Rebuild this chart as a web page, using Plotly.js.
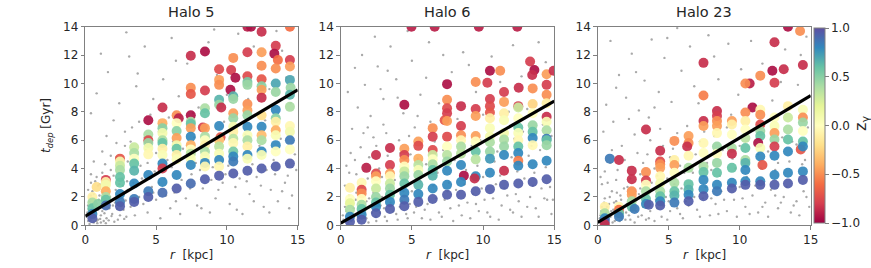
<!DOCTYPE html>
<html>
<head>
<meta charset="utf-8">
<script src="https://cdn.plot.ly/plotly-3.0.1.min.js"></script>
<style>html,body{margin:0;padding:0;background:#fff;}#chart{width:871px;height:268px;}</style>
</head>
<body>
<div id="chart"></div>
<script>
// ---------------- DATA ----------------
const haloTitles = ['Halo 5', 'Halo 6', 'Halo 23'];
const xTicks = [0, 5, 10, 15];
const yTicks = [0, 2, 4, 6, 8, 10, 12, 14];
const cbTicks = [-1, -0.5, 0, 0.5, 1];

// fitted lines: r endpoints and t_dep values
const fitR = [0, 15];
const h5_fit = [0.65, 9.55];
const h6_fit = [0.15, 8.75];
const h23_fit = [0.2, 9.15];

// gray background points [r, t_dep]
const h5_gray = [[0.2,0.3],[0.3,0.8],[0.4,0.5],[0.5,1.2],[0.6,0.2],[0.7,0.9],[0.8,1.5],[0.9,0.4],[1.0,2.1],[1.1,0.7],[1.2,1.0],[1.3,0.3],[0.3,1.7],[0.5,2.4],[0.7,3.1],[0.9,2.8],[1.5,0.5],[1.7,1.2],[1.9,0.8],[2.1,1.6],[2.3,0.4],[2.5,2.2],[2.7,1.1],[2.9,0.6],[0.4,3.6],[0.6,4.5],[1.2,5.2],[1.8,3.9],[2.2,4.8],[2.6,3.3],[3.0,2.5],[3.2,1.3],[3.5,0.7],[3.8,2.0],[4.1,1.5],[4.4,0.9],[4.7,2.7],[5.0,1.8],[5.3,0.5],[5.6,3.3],[6.0,1.2],[6.3,2.3],[6.7,0.8],[7.1,1.9],[7.5,3.6],[7.9,1.4],[8.3,2.6],[8.8,0.9],[9.2,1.9],[9.7,3.0],[10.2,1.5],[10.6,2.7],[11.1,0.8],[11.6,2.2],[12.1,3.4],[12.6,1.3],[13.1,2.5],[13.6,1.7],[14.1,3.0],[14.6,2.1],
[0.1,0.6],[0.2,1.4],[0.4,2.1],[0.6,1.0],[0.8,0.3],[1.0,1.3],[1.4,1.9],[1.6,2.6],[0.3,0.1],[0.5,0.7],[0.9,1.1],[1.1,0.2],
[1.5,6.3],[2.0,7.4],[2.8,5.6],[3.3,6.9],[3.9,4.2],[4.3,5.3],[4.9,3.8],[5.2,6.6],[5.8,4.6],[6.2,5.9],[6.8,3.2],[7.3,4.9],[7.7,6.2],[8.1,3.9],[8.6,5.3],[9.0,4.1],[9.5,5.8],[9.9,3.6],[10.4,4.9],[10.9,3.3],[11.3,6.4],[11.8,4.3],[12.3,5.6],[12.8,3.9],[13.3,4.6],[13.8,6.1],[14.3,3.5],[14.8,5.0],
[0.8,9.3],[1.6,10.8],[2.4,8.6],[3.1,11.9],[3.6,9.8],[4.2,12.6],[4.8,8.9],[5.5,10.3],[6.1,13.2],[6.6,9.1],[7.2,11.4],[8.0,8.3],[8.7,12.9],[9.3,10.6],[10.0,9.2],[10.8,13.5],[11.5,8.9],[12.2,11.1],[13.0,9.6],[13.9,12.3],[14.5,8.6],[0.4,7.9],[1.1,12.1],[2.9,13.6],[5.9,7.6],[7.6,7.9],[9.8,7.3],[12.7,7.4],[14.2,10.4],
[0.15,0.9],[0.25,1.1],[0.35,0.35],[0.45,0.95],[0.55,1.55],[0.65,0.55],[0.75,1.25],[0.85,0.15],[0.95,1.8],[1.05,0.45],[1.15,1.45],[1.25,2.3],[1.35,0.85],[1.45,0.15],[1.55,1.6],[1.65,0.35],[1.75,2.0],[1.85,0.65],[1.95,1.4],[2.05,0.25],[2.15,2.5],[2.25,1.15],[2.35,1.85],[2.45,0.7],[2.55,1.35],[2.65,2.8],[2.75,0.45],[2.85,1.75],[2.95,3.1],[0.2,2.5],[0.4,3.0],[0.6,2.2],[0.8,3.4],[1.0,2.9],[1.2,3.7],[1.4,4.3],[1.6,3.1],[1.8,4.9],[2.0,3.5],[2.2,5.8],[2.4,2.9],[2.6,4.2],[2.8,6.6],[3.0,4.5],[3.2,5.9],[3.4,3.0],[3.6,4.6],[3.8,7.3],[4.0,3.3],[4.2,6.2],[4.4,4.4],[4.6,7.8],[4.8,2.3],[5.0,5.1],[5.2,3.0],[5.4,7.2],[5.7,2.1],[6.1,4.1],[6.4,1.7],[6.9,5.4],[7.4,2.6],[7.8,4.4],[8.2,1.2],[8.9,3.2],[9.4,2.5],[10.1,4.2],[10.7,1.1],[11.4,3.1],[11.9,1.7],[12.4,2.8],[13.0,0.9],[13.4,3.6],[13.9,2.4],[14.4,1.2],[14.9,3.9],[3.7,10.7],[6.4,11.6],[9.1,13.8],[11.9,12.6],[13.5,13.7]];

const h6_gray = [[0.2,0.4],[0.4,1.0],[0.5,0.2],[0.7,1.6],[0.9,0.7],[1.1,2.3],[1.3,0.3],[1.6,1.1],[1.8,0.5],[2.0,1.9],[2.2,0.9],[2.5,0.3],[2.8,1.4],[3.1,0.6],[3.4,2.6],[3.7,1.0],[4.0,0.4],[4.3,1.7],[4.6,0.8],[5.0,2.4],[5.3,1.3],[5.7,0.5],[6.1,1.5],[6.5,2.8],[6.9,0.9],[7.3,1.8],[7.7,1.2],[8.1,2.5],[8.5,0.7],[8.9,1.6],[9.3,2.2],[9.7,1.0],[10.1,1.8],[10.5,0.6],[10.9,2.9],[11.3,1.4],[11.7,2.1],[12.1,0.9],[12.5,1.7],[12.9,3.3],[13.3,2.0],[13.7,1.2],[14.1,2.6],[14.5,1.8],[14.8,0.8],
[0.3,2.8],[0.6,3.7],[1.0,4.6],[1.4,5.5],[1.9,3.3],[2.3,6.2],[2.7,4.0],[3.0,7.1],[3.3,4.9],[3.8,3.2],[4.1,6.0],[4.5,3.6],[4.9,5.0],[5.2,6.9],[5.6,3.1],[6.0,4.3],[6.3,7.3],[6.8,3.7],[7.2,5.3],[7.6,3.0],[8.0,4.6],[8.4,6.8],[8.8,3.9],[9.2,5.6],[9.6,4.2],[10.0,3.4],[10.4,6.2],[10.8,4.5],[11.2,3.5],[11.6,5.9],[12.0,4.8],[12.4,3.8],[12.8,6.6],[13.2,4.9],[13.6,3.7],[14.0,5.3],[14.4,4.1],[14.8,6.3],
[0.8,6.8],[1.2,8.3],[1.7,9.9],[2.1,7.7],[2.6,11.2],[3.0,8.9],[3.5,12.6],[3.9,10.3],[4.4,7.9],[5.0,11.6],[5.6,9.2],[6.2,12.9],[6.9,8.6],[7.8,10.8],[8.6,12.2],[9.5,9.4],[10.6,11.9],[11.8,8.0],[12.7,10.5],[13.9,12.9],[14.6,8.9],[2.4,13.3],[4.7,13.7],[1.5,12.0],[8.2,7.5],[10.0,7.8],
[0.15,0.7],[0.3,1.3],[0.45,0.5],[0.6,2.1],[0.75,0.3],[0.9,1.2],[1.05,1.8],[1.2,0.6],[1.35,1.5],[1.5,2.6],[1.65,0.8],[1.8,1.7],[1.95,0.2],[2.1,1.3],[2.3,2.3],[2.45,0.6],[2.6,1.8],[2.75,0.9],[2.9,2.0],[3.05,1.2],[3.25,0.3],[3.5,1.6],[3.65,2.1],[3.9,0.8],[4.15,1.3],[4.4,2.4],[4.7,0.5],[4.85,1.5],[5.15,0.9],[5.5,2.0],[5.9,1.1],[6.3,0.4],[6.7,1.9],[7.1,0.6],[7.5,2.4],[7.9,0.3],[8.3,1.4],[8.7,2.9],[9.1,0.5],[9.5,1.5],[9.9,2.6],[10.3,0.9],[10.7,1.9],[11.1,0.4],[11.5,2.6],[11.9,1.1],[12.3,2.2],[12.7,0.6],[13.1,1.3],[13.5,2.8],[13.9,0.6],[14.3,1.9],[14.7,2.7],[14.9,1.8],
[0.4,4.2],[0.7,5.1],[1.1,3.6],[1.6,6.5],[2.0,4.8],[2.5,5.6],[2.9,3.4],[3.2,6.5],[3.6,4.0],[4.2,5.1],[4.8,6.3],[5.4,4.7],[6.6,5.9],[7.4,4.1],[8.6,5.0],[9.8,6.0],[11.0,5.2],[12.2,6.1],[13.4,5.6],[14.2,7.1],
[0.5,9.4],[1.0,11.1],[1.9,6.9],[2.8,9.6],[3.3,10.9],[4.0,9.0],[5.4,7.7],[6.0,10.4],[7.2,12.0],[9.0,11.3],[11.2,10.1],[12.1,12.7],[13.1,8.2],[14.4,11.5]];

const h23_gray = [[0.1,0.2],[0.2,0.7],[0.3,1.3],[0.4,0.4],[0.5,1.9],[0.6,0.9],[0.7,0.1],[0.8,1.5],[0.9,0.6],[1.0,2.4],[1.1,1.1],[1.2,0.3],[1.3,1.7],[1.4,0.8],[1.6,2.1],[1.7,0.5],[1.8,1.3],[2.0,0.9],[2.1,2.7],[2.3,0.4],[2.5,1.6],[2.7,1.0],[2.9,2.2],[3.1,0.7],[3.3,1.9],[3.6,0.5],[3.9,2.5],[4.2,1.2],[4.5,0.6],[4.8,2.0],[5.1,1.0],[5.4,2.9],[5.8,0.8],[6.2,1.7],[6.6,2.6],[7.0,1.1],[7.4,1.9],[7.9,0.7],[8.3,1.5],[8.7,2.4],[9.1,1.0],[9.6,1.8],[10.0,2.7],[10.4,1.3],[10.9,2.1],[11.3,0.9],[11.8,1.6],[12.2,2.5],[12.7,1.2],[13.1,2.0],[13.6,0.9],[14.0,1.7],[14.5,2.4],[14.9,1.3],
[0.3,2.9],[0.5,3.8],[0.9,4.4],[1.3,3.2],[1.7,5.6],[2.2,4.1],[2.6,6.4],[3.0,3.6],[3.5,5.0],[4.0,4.0],[4.4,6.8],[4.9,3.3],[5.3,5.4],[5.8,4.2],[6.3,7.0],[6.7,3.7],[7.2,5.9],[7.7,4.4],[8.2,6.3],[8.6,3.5],[9.1,6.9],[9.5,4.7],[10.0,5.6],[10.5,3.4],[11.0,6.7],[11.5,4.0],[12.0,5.2],[12.5,3.9],[13.0,6.2],[13.5,4.5],[14.0,5.7],[14.4,4.3],[14.8,6.9],
[0.6,8.5],[1.1,7.3],[1.5,10.6],[2.0,9.0],[2.4,12.1],[2.9,8.1],[3.3,10.2],[3.8,13.1],[4.3,9.4],[4.7,11.8],[5.2,8.7],[5.9,10.9],[6.5,12.6],[7.1,8.6],[7.8,13.4],[8.5,10.3],[9.2,12.8],[9.9,9.2],[10.8,13.0],[11.6,11.4],[12.3,8.8],[13.2,12.4],[14.1,9.9],[14.7,13.3],[0.9,13.0],[5.6,13.9],[3.6,7.6],[9.4,7.8],
[0.15,0.5],[0.25,1.0],[0.35,0.2],[0.45,1.6],[0.55,0.6],[0.65,1.3],[0.75,0.4],[0.85,2.0],[0.95,1.0],[1.05,0.2],[1.15,1.6],[1.25,0.7],[1.35,2.3],[1.45,1.2],[1.55,0.3],[1.65,1.8],[1.75,0.9],[1.85,2.6],[1.95,0.4],[2.05,1.5],[2.2,0.7],[2.35,2.0],[2.45,1.1],[2.6,0.2],[2.75,1.8],[2.85,0.6],[3.0,2.6],[3.2,1.3],[3.4,0.4],[3.5,2.2],[3.7,1.0],[3.8,3.0],[4.0,0.3],[4.1,1.8],[4.3,2.8],[4.6,1.4],[4.9,0.4],[5.0,1.7],[5.3,2.3],[5.6,1.2],[5.9,2.6],[6.0,0.5],[6.4,1.4],[6.8,2.0],[7.2,0.6],[7.6,2.7],[8.0,1.9],[8.5,0.8],[8.9,1.8],[9.3,2.9],[9.8,0.6],[10.2,1.9],[10.7,0.8],[11.1,2.8],[11.6,1.3],[12.0,0.6],[12.5,2.1],[12.9,1.6],[13.3,2.7],[13.8,1.4],[14.2,0.7],[14.7,2.0],
[0.2,3.4],[0.7,3.0],[1.0,5.3],[1.4,3.9],[1.9,4.6],[2.3,3.3],[2.8,5.1],[3.2,4.4],[3.7,6.0],[4.2,3.5],[4.6,5.6],[5.1,4.8],[5.6,6.5],[6.1,3.7],[6.9,5.0],[7.5,6.6],[8.0,3.9],[8.8,5.3],[9.7,4.0],[10.3,6.3],[11.3,5.0],[12.7,4.4],[13.7,5.9],[14.6,4.6],
[0.4,6.6],[1.3,9.7],[2.2,7.5],[2.7,10.8],[4.0,8.3],[4.9,13.2],[6.8,9.8],[8.2,11.9],[10.1,11.0],[11.1,8.5],[12.9,10.1],[14.3,12.0]];

// coloured binned points [r, t_dep, z_gamma]
const h5_pts = [
[0.5,2.0,-0.1],[0.5,1.6,0.4],[0.5,1.2,0.6],[0.5,0.8,0.8],[0.5,0.5,0.95],[0.8,2.7,-0.2],[0.9,1.5,0.5],
[1.45,3.2,-0.8],[1.45,3.05,-0.1],[1.45,2.85,0.1],[1.45,2.4,-0.4],[1.45,2.0,0.4],[1.45,1.8,0.6],[1.45,1.4,0.9],
[2.45,4.7,-0.7],[2.45,4.5,0.1],[2.45,4.2,0.3],[2.45,3.9,0.4],[2.45,3.4,0.6],[2.45,3.0,0.6],[2.45,2.2,0.8],[2.45,1.65,0.85],[2.45,1.35,0.95],
[3.45,5.5,0.3],[3.45,5.1,0.4],[3.45,4.7,0.0],[3.45,4.35,0.6],[3.45,3.85,0.65],[3.45,2.95,0.8],[3.45,1.85,0.85],[3.45,1.65,0.95],
[4.45,7.4,-0.95],[4.45,6.4,0.4],[4.45,6.0,-0.75],[4.45,5.8,0.45],[4.45,5.45,0.1],[4.45,5.0,-0.05],[4.45,3.55,0.8],[4.45,2.4,0.85],[4.45,2.0,0.95],
[5.45,8.3,-0.85],[5.45,7.2,-0.4],[5.45,6.85,0.5],[5.45,6.5,0.1],[5.45,6.0,0.4],[5.45,5.8,0.6],[5.45,5.4,-0.1],[5.45,4.95,0.05],[5.45,4.35,0.8],[5.45,4.0,-0.8],[5.45,3.05,0.8],[5.45,2.3,0.9],
[6.45,7.75,-0.5],[6.6,7.55,-0.9],[6.45,7.2,0.0],[6.45,6.65,0.5],[6.45,6.15,-0.45],[6.45,5.65,0.1],[6.45,5.4,0.6],[6.45,4.95,-0.1],[6.45,4.65,0.05],[6.45,3.55,0.8],[6.45,2.6,0.95],
[7.45,11.95,-0.85],[7.45,9.7,-0.5],[7.45,9.25,-0.7],[7.45,7.75,-0.95],[7.45,7.3,0.4],[7.45,7.15,0.6],[7.45,6.85,-0.45],[7.45,6.25,0.8],[7.45,5.65,-0.4],[7.45,5.35,0.0],[7.45,5.05,0.35],[7.45,4.7,0.05],[7.45,4.25,0.8],[7.45,2.95,0.9],
[8.45,12.25,-0.95],[8.45,9.5,-0.8],[8.45,8.25,0.4],[8.45,7.9,0.6],[8.3,6.9,-0.8],[8.45,6.85,-0.45],[8.45,6.25,0.4],[8.45,6.0,0.0],[8.45,5.65,-0.1],[8.45,5.2,0.4],[8.45,4.85,0.05],[8.45,4.4,0.8],[8.45,4.15,-0.05],[8.45,3.25,0.95],
[9.45,11.0,-0.75],[9.45,10.25,-0.45],[9.45,9.9,-0.5],[9.45,8.85,0.65],[9.45,8.5,0.45],[9.6,8.3,-0.85],[9.45,7.0,0.8],[9.55,6.2,-0.7],[9.45,6.0,-0.3],[9.45,5.55,0.35],[9.45,5.05,0.05],[9.45,4.6,0.8],[9.45,4.15,-0.05],[9.45,3.5,0.95],
[10.45,11.8,-0.5],[10.3,10.95,-0.8],[10.6,10.4,-0.95],[10.25,9.55,-0.95],[10.45,9.1,0.65],[10.45,8.9,0.45],[10.45,7.9,-0.45],[10.45,7.55,0.45],[10.45,6.95,0.1],[10.45,6.6,-0.1],[10.45,6.1,0.35],[10.45,5.8,-0.05],[10.45,5.2,0.55],[10.45,4.85,0.8],[10.45,4.5,0.85],[10.45,3.65,0.95],
[11.45,14.0,-0.9],[11.7,14.0,-0.95],[11.45,12.2,-0.8],[11.45,10.5,-0.75],[11.45,10.1,0.55],[11.45,9.9,0.45],[11.45,8.55,-0.5],[11.45,8.1,-0.45],[11.45,7.75,0.45],[11.45,6.95,0.8],[11.45,6.35,0.05],[11.45,6.0,0.4],[11.45,5.55,-0.1],[11.45,4.95,0.8],[11.45,4.7,0.05],[11.45,3.85,0.95],
[12.45,13.65,-0.85],[12.45,12.2,-0.45],[12.45,11.25,-0.5],[12.45,10.3,-0.7],[12.45,9.8,0.5],[12.45,9.55,-0.45],[12.45,9.0,-0.85],[12.45,7.75,-0.2],[12.45,6.95,0.8],[12.45,6.35,-0.35],[12.45,6.0,0.4],[12.45,5.2,0.8],[12.45,4.95,0.05],[12.45,4.0,0.95],
[13.45,12.65,-0.8],[13.35,12.1,-0.95],[13.6,11.65,-0.6],[13.45,11.05,-0.5],[13.45,10.0,0.7],[13.45,9.4,0.45],[13.45,8.15,0.8],[13.45,7.55,0.5],[13.45,7.3,-0.1],[13.45,6.7,-0.4],[13.45,6.35,0.05],[13.45,5.65,0.8],[13.45,5.2,0.0],[13.45,4.15,0.95],
[14.45,14.0,-0.6],[14.45,11.65,-0.8],[14.45,11.2,-0.45],[14.45,10.25,0.7],[14.5,9.7,0.45],[14.45,9.2,0.65],[14.45,8.35,0.4],[14.45,7.0,-0.05],[14.45,6.6,0.1],[14.45,6.0,0.85],[14.45,5.35,0.0],[14.45,4.35,0.95]];

const h6_pts = [
[0.65,2.65,-0.1],[0.65,1.85,0.0],[0.65,1.55,0.2],[0.65,1.1,0.4],[0.65,0.6,0.8],[0.65,0.25,0.95],
[1.47,3.0,-0.05],[1.47,2.5,-0.75],[1.47,2.25,-0.5],[1.47,1.85,0.0],[1.47,1.45,0.4],[1.47,1.15,0.6],[1.47,0.75,0.8],[1.47,0.4,0.95],
[1.8,4.05,-0.9],[2.48,4.95,-0.85],[2.48,3.65,-0.75],[2.48,3.45,-0.45],[2.48,3.1,0.0],[2.48,2.6,0.3],[2.48,2.0,0.45],[2.48,1.6,0.6],[2.48,1.3,0.8],[2.48,0.85,0.95],
[3.46,5.45,-0.85],[3.46,4.25,-0.8],[3.46,3.65,-0.45],[3.46,3.45,-0.05],[3.46,2.95,0.3],[3.46,2.6,0.45],[3.46,2.15,0.6],[3.46,1.65,0.8],[3.46,1.15,0.95],
[4.47,8.5,-0.95],[4.47,5.4,-0.45],[4.47,4.95,-0.8],[4.47,4.6,-0.5],[4.47,4.15,0.0],[4.47,3.8,0.3],[4.47,3.45,0.45],[4.47,2.95,0.6],[4.47,2.3,0.8],[4.47,1.8,0.85],[4.47,1.35,0.95],
[5.45,5.9,-0.45],[5.45,5.6,-0.75],[5.45,4.7,-0.4],[5.45,4.25,0.35],[5.45,3.9,0.05],[5.45,3.55,0.45],[5.45,2.85,0.65],[5.45,2.2,0.8],[5.45,1.65,0.95],
[6.46,6.85,-0.5],[6.46,6.25,-0.8],[6.46,5.3,-0.75],[6.46,4.95,0.3],[6.46,4.65,0.0],[6.46,4.3,0.4],[6.46,3.9,0.6],[6.46,3.5,0.65],[6.46,2.6,0.8],[6.46,1.85,0.95],
[7.47,9.95,-0.95],[7.47,8.85,-0.5],[7.47,8.25,-0.75],[7.47,7.9,-0.8],[7.3,7.4,-0.7],[7.47,7.35,-0.45],[7.47,6.25,-0.75],[7.47,5.55,0.0],[7.47,4.95,0.35],[7.47,4.5,0.45],[7.47,3.85,0.8],[7.47,2.85,0.8],[7.47,2.15,0.95],
[8.45,8.4,-0.85],[8.45,7.0,-0.8],[8.45,6.35,-0.5],[8.45,6.0,-0.05],[8.45,5.55,0.4],[8.45,5.05,0.35],[8.45,4.25,0.8],[8.65,3.5,-0.95],[8.45,3.05,0.8],[8.45,2.15,0.95],
[9.48,10.1,-0.5],[9.48,8.2,-0.8],[9.48,7.7,-0.45],[9.48,6.3,-0.45],[9.48,5.9,0.0],[9.48,5.2,0.6],[9.48,4.65,0.35],[9.48,3.45,0.8],[9.4,3.3,-0.85],[9.48,2.4,0.95],
[10.48,10.9,-0.95],[10.3,10.05,-0.8],[10.48,8.9,-0.8],[10.48,8.4,-0.75],[10.48,7.95,-0.7],[10.48,7.55,-0.1],[10.48,6.85,0.05],[10.48,6.25,0.1],[10.48,5.85,0.4],[10.48,5.2,0.45],[10.48,4.7,0.75],[10.48,3.7,0.8],[10.48,2.55,0.95],
[11.2,10.9,-0.5],[11.47,9.4,-0.8],[11.47,8.7,-0.45],[11.47,7.9,-0.1],[11.47,7.4,0.05],[11.47,6.5,0.1],[11.47,6.05,0.4],[11.47,5.55,0.45],[11.47,4.95,0.8],[11.47,3.85,-0.85],[11.47,2.85,0.95],
[12.5,9.7,-0.85],[12.47,8.4,-0.8],[12.47,8.3,0.3],[12.47,7.55,0.0],[12.47,6.9,0.6],[12.47,6.5,0.05],[12.47,6.0,-0.05],[12.47,5.55,0.6],[12.47,5.1,0.8],[12.47,4.55,-0.55],[12.47,4.2,0.8],[12.47,2.95,0.95],
[13.3,11.55,-0.8],[13.6,10.95,-0.95],[13.45,10.6,-0.85],[13.48,9.65,-0.5],[13.48,8.55,-0.25],[13.48,7.9,0.0],[13.48,7.05,0.45],[13.48,6.6,0.6],[13.48,6.15,0.8],[13.48,5.65,-0.05],[13.48,4.3,0.8],[13.48,3.05,0.95],
[14.46,10.65,-0.45],[14.46,9.9,-0.8],[14.46,9.2,-0.5],[14.46,8.6,-0.1],[14.46,7.65,-0.85],[14.46,7.3,0.05],[14.46,6.7,0.4],[14.46,6.1,0.85],[14.46,6.0,0.6],[14.46,5.65,0.45],[14.46,4.55,0.8],[14.46,3.25,0.95],
[14.95,10.9,-0.85],[4.97,14.0,-0.9],[6.6,14.0,-0.9],[9.7,14.0,-0.9],[12.4,14.0,-0.9]];

const h23_pts = [
[0.5,1.3,-0.1],[0.5,0.85,0.4],[0.5,0.5,0.8],[0.5,0.25,0.95],[0.5,0.05,-0.85],[0.85,4.7,0.85],[1.5,4.6,-0.85],
[1.5,1.3,-0.05],[1.5,1.1,-0.6],[1.5,0.85,0.6],[1.5,0.6,0.85],
[2.4,3.85,-0.85],[2.4,3.25,-0.85],[2.4,2.4,-0.5],[2.4,2.15,-0.45],[2.4,1.7,0.4],[2.4,1.3,0.6],[2.6,1.15,0.85],
[3.4,6.75,-0.85],[3.4,3.75,-0.5],[3.4,3.15,-0.8],[3.4,2.85,0.0],[3.4,2.4,0.4],[3.4,1.85,0.6],[3.4,1.5,0.8],[3.6,1.45,0.95],
[4.4,5.25,-0.85],[4.4,4.5,-0.75],[4.4,4.3,-0.5],[4.4,4.05,-0.45],[4.4,3.45,-0.05],[4.4,2.95,0.1],[4.4,2.4,0.4],[4.4,2.05,0.6],[4.4,1.7,0.8],[4.4,1.4,0.95],
[5.4,5.95,-0.5],[5.4,4.6,-0.1],[5.4,4.25,-0.45],[5.4,3.7,0.0],[5.4,3.0,0.4],[5.4,2.4,0.6],[5.4,2.1,0.65],[5.4,1.6,0.85],
[6.4,6.3,-0.45],[6.4,5.8,-0.5],[6.3,5.55,-0.85],[6.4,4.9,-0.05],[6.4,4.05,0.4],[6.4,2.9,0.6],[6.4,2.5,0.65],[6.4,2.15,0.8],[6.4,1.7,0.95],
[7.45,11.45,-0.85],[7.45,9.15,-0.55],[7.45,7.35,-0.85],[7.45,7.0,-0.45],[7.45,5.8,-0.05],[7.45,5.1,0.0],[7.45,4.15,0.4],[7.45,3.75,0.6],[7.45,3.2,0.8],[7.45,2.55,0.8],[7.45,2.05,0.95],
[8.4,8.05,-0.85],[8.4,7.7,-0.8],[8.4,7.35,-0.5],[8.4,7.0,-0.45],[8.4,6.5,-0.05],[8.4,5.55,0.45],[8.4,5.05,0.0],[8.4,4.4,0.45],[8.4,3.7,0.6],[8.4,2.85,0.8],[8.4,2.4,0.85],
[9.45,7.35,-0.45],[9.45,7.1,-0.1],[9.45,6.4,0.0],[9.45,5.45,0.4],[9.45,5.05,-0.85],[9.45,4.05,0.6],[9.45,3.0,0.8],[9.45,2.6,0.95],
[10.7,10.0,-0.9],[10.4,10.0,-0.5],[10.9,8.3,-0.95],[10.4,7.95,-0.5],[10.4,7.35,-0.1],[10.4,6.75,0.0],[10.4,6.15,0.35],[10.4,5.45,0.6],[10.4,4.6,0.4],[10.4,4.4,0.65],[10.4,3.9,0.8],[10.4,3.1,0.8],[10.4,2.85,0.95],
[11.45,10.55,-0.5],[11.45,8.15,-0.05],[11.45,7.8,-0.5],[11.45,7.1,-0.75],[11.45,6.65,0.45],[11.45,6.3,0.6],[11.3,5.8,-0.95],[11.45,5.45,0.05],[11.45,4.85,0.8],[11.6,4.25,-0.7],[11.45,3.1,0.8],[11.45,2.85,0.95],
[12.45,12.9,-0.85],[12.3,10.9,-0.95],[12.45,10.05,-0.8],[12.45,7.6,0.0],[12.45,7.0,0.05],[12.45,6.5,-0.45],[12.45,6.05,0.45],[12.45,5.55,-0.8],[12.45,4.9,0.8],[12.45,3.55,0.8],[12.45,2.85,0.95],
[13.4,14.0,-0.95],[13.1,11.0,-0.85],[13.4,8.4,-0.1],[13.4,7.6,0.3],[13.4,6.75,0.4],[13.4,6.05,0.6],[13.4,5.2,0.8],[13.4,3.7,0.8],[13.4,2.95,0.95],
[14.25,13.7,-0.5],[14.45,11.3,-0.85],[14.45,8.15,0.05],[14.45,7.6,-0.5],[14.45,7.25,0.45],[14.45,6.65,0.0],[14.45,5.9,0.6],[14.3,5.35,-0.7],[14.45,5.55,0.8],[14.45,3.8,0.8],[14.45,3.2,0.95]];

// ---------------- STYLE / BUILD ----------------
const spectral = [[0,'#9e0142'],[0.1,'#d53e4f'],[0.2,'#f46d43'],[0.3,'#fdae61'],[0.4,'#fee08b'],[0.5,'#ffffbf'],[0.6,'#e6f598'],[0.7,'#abdda4'],[0.8,'#66c2a5'],[0.9,'#3288bd'],[1,'#5e4fa2']];
const FONT = 'DejaVu Sans, Liberation Sans, sans-serif';
const TXT = '#262626';
const FRAME = '#808080';

const panels = [
  {gray: h5_gray, pts: h5_pts, fit: h5_fit, xa: 'x', ya: 'y'},
  {gray: h6_gray, pts: h6_pts, fit: h6_fit, xa: 'x2', ya: 'y2'},
  {gray: h23_gray, pts: h23_pts, fit: h23_fit, xa: 'x3', ya: 'y3'}
];

const traces = [];
panels.forEach((p, i) => {
  traces.push({
    type: 'scatter', mode: 'markers', xaxis: p.xa, yaxis: p.ya,
    x: p.gray.map(d => d[0]), y: p.gray.map(d => d[1]),
    marker: {size: 2.4, color: '#9a9a9a', opacity: 0.85},
    hoverinfo: 'skip', showlegend: false, cliponaxis: true
  });
  const tr = {
    type: 'scatter', mode: 'markers', xaxis: p.xa, yaxis: p.ya,
    x: p.pts.map(d => d[0]), y: p.pts.map(d => d[1]),
    marker: {size: 10, color: p.pts.map(d => d[2]), colorscale: spectral, cmin: -1, cmax: 1,
             opacity: 0.92, line: {width: 0}, showscale: i === 2},
    showlegend: false, cliponaxis: true
  };
  if (i === 2) {
    tr.marker.colorbar = {
      thickness: 11, thicknessmode: 'pixels', len: 195/268, lenmode: 'fraction',
      x: 814/871, xanchor: 'left', y: (268-125.5)/268, yanchor: 'middle',
      xpad: 0, ypad: 0, outlinewidth: 1, outlinecolor: FRAME,
      ticks: 'outside', ticklen: 3.5, tickwidth: 1, tickcolor: FRAME,
      tickvals: cbTicks, tickformat: '.1f', tickfont: {family: FONT, size: 12, color: TXT}
    };
  }
  traces.push(tr);
  traces.push({
    type: 'scatter', mode: 'lines', xaxis: p.xa, yaxis: p.ya,
    x: fitR, y: p.fit, line: {color: '#000', width: 3.2},
    showlegend: false, hoverinfo: 'skip', cliponaxis: true
  });
});

const W = 871, H = 268;
const xd = [[85.3, 297.7], [340.7, 554.3], [597.7, 810.7]];
const yd = [(H-225.3)/H, (H-26.7)/H];

function xaxis(dom, anchor) {
  return {domain: [dom[0]/W, dom[1]/W], anchor: anchor, range: [0, 15], tickvals: xTicks,
    showgrid: false, zeroline: false, showline: true, mirror: true, linecolor: FRAME, linewidth: 1,
    ticks: 'outside', ticklen: 3.5, tickwidth: 1, tickcolor: FRAME,
    tickfont: {family: FONT, size: 12, color: TXT}, fixedrange: true};
}
function yaxis(anchor) {
  return {domain: yd, anchor: anchor, range: [0, 14], tickvals: yTicks,
    showgrid: false, zeroline: false, showline: true, mirror: true, linecolor: FRAME, linewidth: 1,
    ticks: 'outside', ticklen: 3.5, tickwidth: 1, tickcolor: FRAME,
    tickfont: {family: FONT, size: 12, color: TXT}, fixedrange: true};
}

const annotations = [];
haloTitles.forEach((t, i) => {
  annotations.push({text: t, xref: 'paper', yref: 'paper', x: (xd[i][0]+xd[i][1])/2/W, y: (H-12)/H,
    xanchor: 'center', yanchor: 'middle', showarrow: false, font: {family: FONT, size: 14.5, color: TXT}});
  annotations.push({text: '<i>r</i>&nbsp;&nbsp;[kpc]', xref: 'paper', yref: 'paper', x: (xd[i][0]+xd[i][1])/2/W, y: (H-255)/H,
    xanchor: 'center', yanchor: 'middle', showarrow: false, font: {family: FONT, size: 12, color: TXT}});
});
annotations.push({text: '<i>t</i><sub><i>dep</i></sub> [Gyr]', xref: 'paper', yref: 'paper', x: 47/W, y: (H-126)/H,
  xanchor: 'center', yanchor: 'middle', textangle: -90, showarrow: false, font: {family: FONT, size: 12, color: TXT}});
annotations.push({text: 'z<sub>γ</sub>', xref: 'paper', yref: 'paper', x: 861/W, y: (H-124)/H,
  xanchor: 'center', yanchor: 'middle', textangle: -90, showarrow: false, font: {family: FONT, size: 16, color: TXT}});

const layout = {
  width: W, height: H, margin: {l: 0, r: 0, t: 0, b: 0, pad: 0},
  paper_bgcolor: '#fff', plot_bgcolor: '#fff', showlegend: false,
  xaxis: xaxis(xd[0], 'y'), yaxis: yaxis('x'),
  xaxis2: xaxis(xd[1], 'y2'), yaxis2: yaxis('x2'),
  xaxis3: xaxis(xd[2], 'y3'), yaxis3: yaxis('x3'),
  annotations: annotations,
  font: {family: FONT, color: TXT}
};

Plotly.newPlot('chart', traces, layout, {staticPlot: true, displayModeBar: false});
</script>
</body>
</html>
